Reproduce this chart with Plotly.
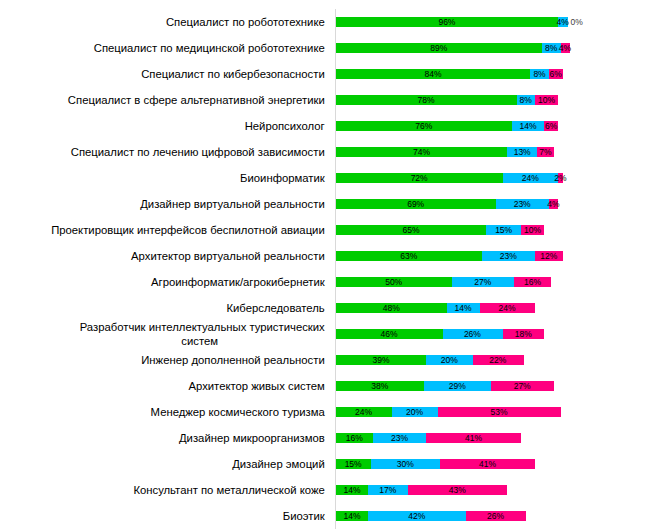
import plotly.graph_objects as go

categories = [
    "Специалист по робототехнике",
    "Специалист по медицинской робототехнике",
    "Специалист по кибербезопасности",
    "Специалист в сфере альтернативной энергетики",
    "Нейропсихолог",
    "Специалист по лечению цифровой зависимости",
    "Биоинформатик",
    "Дизайнер виртуальной реальности",
    "Проектировщик интерфейсов беспилотной авиации",
    "Архитектор виртуальной реальности",
    "Агроинформатик/агрокибернетик",
    "Киберследователь",
    "Разработчик интеллектуальных туристических<br>систем" + "\u00a0" * 34,
    "Инженер дополненной реальности",
    "Архитектор живых систем",
    "Менеджер космического туризма",
    "Дизайнер микроорганизмов",
    "Дизайнер эмоций",
    "Консультант по металлической коже",
    "Биоэтик",
]

green_vals = [96, 89, 84, 78, 76, 74, 72, 69, 65, 63, 50, 48, 46, 39, 38, 24, 16, 15, 14, 14]
blue_vals = [4, 8, 8, 8, 14, 13, 24, 23, 15, 23, 27, 14, 26, 20, 29, 20, 23, 30, 17, 42]
pink_vals = [0, 4, 6, 10, 6, 7, 2, 4, 10, 12, 16, 24, 18, 22, 27, 53, 41, 41, 43, 26]

colors = ["#00CC00", "#00BFFF", "#FF0080"]
series = [green_vals, blue_vals, pink_vals]

FONT = "Arial, 'Liberation Sans', sans-serif"

fig = go.Figure()
for i, (vals, col) in enumerate(zip(series, colors)):
    if i == 2:
        tpos = ["outside" if v == 0 else "inside" for v in vals]
    else:
        tpos = "inside"
    fig.add_trace(go.Bar(
        y=categories,
        x=vals,
        orientation="h",
        marker=dict(color=col, line=dict(width=0)),
        text=[f"{v}%" for v in vals],
        textposition=tpos,
        insidetextanchor="middle",
        textangle=0,
        constraintext="none",
        cliponaxis=False,
        textfont=dict(family=FONT, size=8.5, color="#000000"),
        outsidetextfont=dict(family=FONT, size=8.5, color="#404040"),
        hoverinfo="skip",
        showlegend=False,
    ))

fig.update_layout(
    barmode="stack",
    bargap=0.615,
    width=652,
    height=532,
    margin=dict(l=328, r=89, t=1, b=11, autoexpand=False),
    paper_bgcolor="white",
    plot_bgcolor="white",
    uniformtext=dict(minsize=8.5, mode="show"),
    font=dict(family=FONT, size=11.3, color="#000000"),
    xaxis=dict(range=[0, 101.5], showgrid=False, zeroline=False,
               showticklabels=False, showline=False, fixedrange=True,
               automargin=False),
    yaxis=dict(autorange="reversed", showgrid=False, zeroline=False,
               showline=True, linecolor="#D9D9D9", linewidth=1,
               ticks="outside", ticklen=8, tickcolor="rgba(0,0,0,0)",
               automargin=False,
               tickfont=dict(family=FONT, size=11.3, color="#000000")),
)

fig.write_html("out.html")
